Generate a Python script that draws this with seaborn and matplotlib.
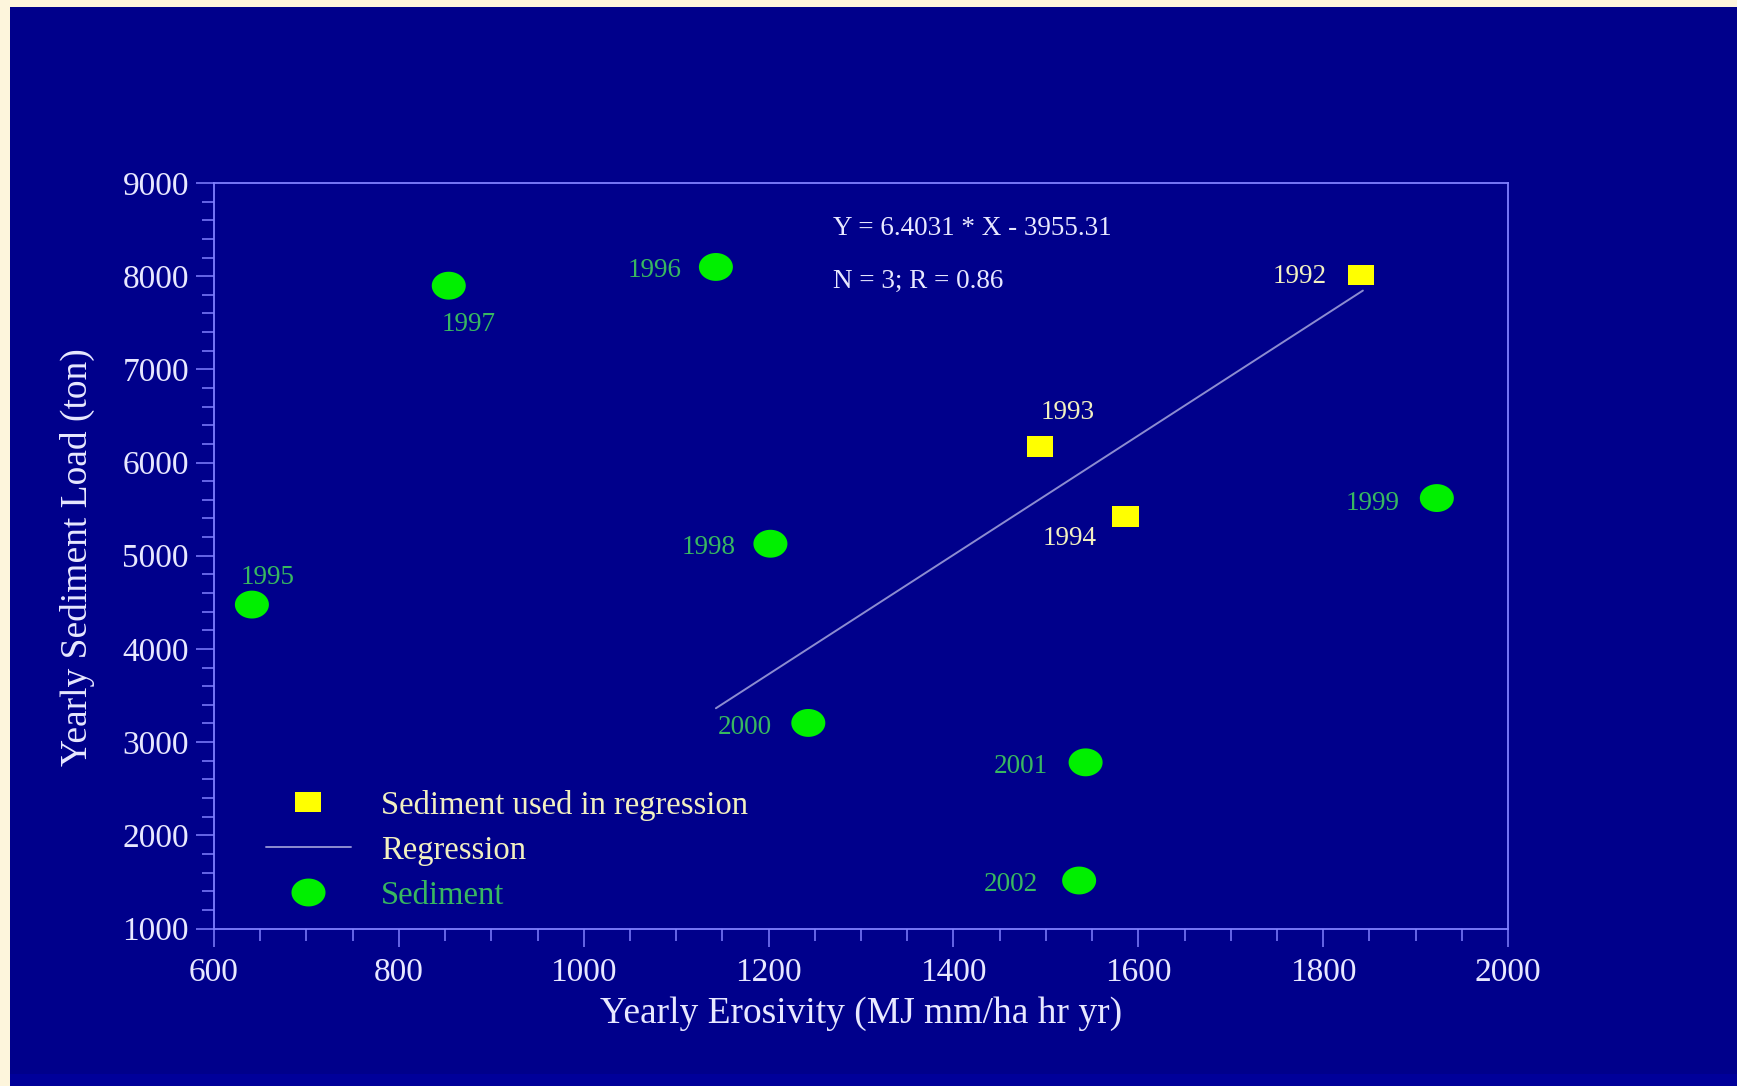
import matplotlib
matplotlib.use("Agg")
import matplotlib.pyplot as plt
import seaborn as sns
import numpy as np
import pandas as pd
from matplotlib.path import Path
from matplotlib.lines import Line2D
from matplotlib.ticker import MultipleLocator
from matplotlib.patches import Rectangle

# ---------------- data ----------------
years_reg = ["1992", "1993", "1994"]
erosivity_reg = [1841, 1494, 1586]
sediment_reg = [8013, 6172, 5422]

years_other = ["1995", "1996", "1997", "1998", "1999", "2000", "2001", "2002"]
erosivity_other = [641, 1143, 854, 1202, 1923, 1243, 1543, 1536]
sediment_other = [4476, 8099, 7898, 5129, 5619, 3206, 2783, 1515]

slope = 6.4031
intercept = -3955.31
reg_x = [1143, 1843]

x_ticks = [600, 800, 1000, 1200, 1400, 1600, 1800, 2000]
y_ticks = [1000, 2000, 3000, 4000, 5000, 6000, 7000, 8000, 9000]

eq_text = "Y = 6.4031 * X - 3955.31"
stat_text = "N = 3; R = 0.86"
legend_labels = ["Sediment used in regression", "Regression", "Sediment"]

# ---------------- style ----------------
sns.set_style("dark")
plt.rcParams["font.family"] = ["Liberation Serif", "DejaVu Serif"]

NAVY = "#00008b"
CREAM = "#fdf5dc"
SPINE = "#8080ff"
WHITE = "#e8e8ff"
GREEN = "#00f000"
YELLOW = "#ffff00"
GREEN_TXT = "#38b860"
YELLOW_TXT = "#f2f0c0"
REG_LINE = "#8c8cd0"

# label offsets (pixels) and alignment per year
label_style = {
    "1992": (-34, -2, "right"),
    "1993": (27, 34, "center"),
    "1994": (-56, -22, "center"),
    "1995": (16, 27, "center"),
    "1996": (-34, -4, "right"),
    "1997": (20, -39, "center"),
    "1998": (-35, -4, "right"),
    "1999": (-37, -5, "right"),
    "2000": (-36, -5, "right"),
    "2001": (-38, -4, "right"),
    "2002": (-41, -4, "right"),
}

# custom marker shapes
t = np.linspace(0, 2 * np.pi, 72)
ellipse = Path(np.column_stack([np.cos(t), 0.82 * np.sin(t)]), closed=True)
rect = Path([(-1, -0.77), (1, -0.77), (1, 0.77), (-1, 0.77), (-1, -0.77)], closed=True)

fig = plt.figure(figsize=(17.37, 10.86), dpi=100, facecolor=CREAM)
W, H = 1737, 1086
fig.patches.append(Rectangle((10 / W, 0), 1 - 10 / W, 1 - 7 / H, transform=fig.transFigure,
                             facecolor=NAVY, edgecolor="none", zorder=-5))
fig.patches.append(Rectangle((10 / W, 0), 1 - 10 / W, 12 / H, transform=fig.transFigure,
                             facecolor="#00009a", edgecolor="none", zorder=-4))

ax = fig.add_axes([214 / W, 1 - 928.5 / H, (1508 - 214) / W, (928.5 - 183) / H])
ax.set_zorder(5)
ax.set_facecolor(NAVY)

df_reg = pd.DataFrame({"erosivity": erosivity_reg, "sediment": sediment_reg, "year": years_reg})
df_other = pd.DataFrame({"erosivity": erosivity_other, "sediment": sediment_other, "year": years_other})
df_line = pd.DataFrame({"x": reg_x, "y": [slope * v + intercept for v in reg_x]})

sns.lineplot(data=df_line, x="x", y="y", color=REG_LINE, linewidth=1.4, ax=ax, legend=False, zorder=2)
sns.scatterplot(data=df_other, x="erosivity", y="sediment", marker=ellipse, s=600,
                color=GREEN, edgecolor="none", linewidth=0, ax=ax, legend=False, zorder=3)
sns.scatterplot(data=df_reg, x="erosivity", y="sediment", marker=rect, s=360,
                color=YELLOW, edgecolor="none", linewidth=0, ax=ax, legend=False, zorder=3)

for df, col in ((df_reg, YELLOW_TXT), (df_other, GREEN_TXT)):
    for _, r in df.iterrows():
        dx, dy, ha = label_style[r["year"]]
        ax.annotate(r["year"], (r["erosivity"], r["sediment"]), xytext=(dx, dy),
                    textcoords="offset pixels", ha=ha, va="center", color=col, fontsize=19.5)

ax.text(0.4784, 0.939, eq_text, transform=ax.transAxes, ha="left", va="center",
        color=WHITE, fontsize=19.5)
ax.text(0.4784, 0.868, stat_text, transform=ax.transAxes, ha="left", va="center",
        color=WHITE, fontsize=19.5)

ax.set_xlim(600, 2000)
ax.set_ylim(1000, 9000)
ax.set_xticks(x_ticks)
ax.set_yticks(y_ticks)
ax.xaxis.set_minor_locator(MultipleLocator(50))
ax.yaxis.set_minor_locator(MultipleLocator(200))
ax.grid(False)

for s in ax.spines.values():
    s.set_visible(True)
    s.set_color(SPINE)
    s.set_linewidth(1.3)

ax.tick_params(axis="both", which="major", direction="out", length=13, width=1.1,
               color=SPINE, labelcolor=WHITE, labelsize=24, pad=5,
               bottom=True, left=True, top=False, right=False)
ax.tick_params(axis="x", which="major", pad=8)
ax.tick_params(axis="both", which="minor", direction="out", length=8.5, width=1.1,
               color=SPINE, bottom=True, left=True, top=False, right=False)

ax.set_xlabel("Yearly Erosivity (MJ mm/ha hr yr)", color=WHITE, fontsize=27)
ax.set_ylabel("Yearly Sediment Load (ton)", color=WHITE, fontsize=27)
ax.xaxis.set_label_coords(0.5, -0.114)
ax.xaxis.label.set_va("center")
ax.yaxis.set_label_coords(-0.1057, 0.498)
ax.yaxis.label.set_va("center")

handles = [
    Line2D([], [], marker=rect, markersize=19, color=YELLOW, linestyle="none", markeredgewidth=0),
    Line2D([], [], color=REG_LINE, linewidth=1.4),
    Line2D([], [], marker=ellipse, markersize=24.5, color=GREEN, linestyle="none", markeredgewidth=0),
]
leg = ax.legend(handles, legend_labels, loc="center left", bbox_to_anchor=(0.0402, 0.105),
                frameon=False, fontsize=23.5, borderpad=0, borderaxespad=0,
                handlelength=2.6, handletextpad=0.92, labelspacing=0.45,
                labelcolor=[YELLOW_TXT, YELLOW_TXT, GREEN_TXT])

fig.savefig("out.png", dpi=100, facecolor=fig.get_facecolor())
